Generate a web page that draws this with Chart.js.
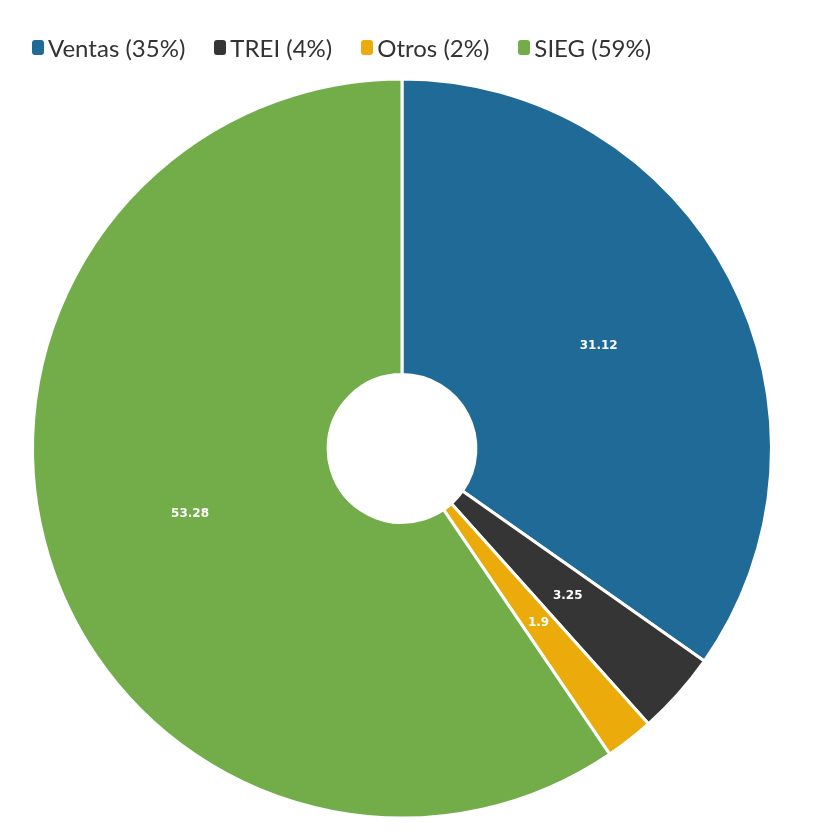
<!DOCTYPE html>
<html>
<head>
<meta charset="utf-8">
<script src="https://cdn.jsdelivr.net/npm/chart.js@4"></script>
<style>
  html, body { margin: 0; padding: 0; background: #fff; }
  #wrap { position: relative; width: 820px; height: 838px; }
  #legend { position: absolute; left: 32px; top: 33px; display: flex; font-family: Lato, "Noto Sans", sans-serif; font-size: 24px; color: #333; line-height: 30px; }
  .item { display: flex; align-items: center; margin-right: 29px; white-space: nowrap; }
  .box { width: 12px; height: 15px; border-radius: 3px; margin-right: 4px; margin-top: -2px; }
</style>
</head>
<body>
<div id="wrap">
  <canvas id="c" width="820" height="838"></canvas>
  <div id="legend"></div>
</div>
<script>
const categories = ["Ventas", "TREI", "Otros", "SIEG"];
const values = [31.12, 3.25, 1.9, 53.28];
const percentLabels = ["35%", "4%", "2%", "59%"];
const valueLabels = ["31.12", "3.25", "1.9", "53.28"];
const colors = ["#1f6a96", "#353535", "#eaab0b", "#72ad4a"];

const legend = document.getElementById('legend');
categories.forEach((c, i) => {
  const it = document.createElement('div');
  it.className = 'item';
  const b = document.createElement('div');
  b.className = 'box';
  b.style.background = colors[i];
  const t = document.createElement('span');
  t.textContent = c + ' (' + percentLabels[i] + ')';
  it.appendChild(b); it.appendChild(t);
  legend.appendChild(it);
});

const labelPlugin = {
  id: 'valueLabels',
  afterDatasetsDraw(chart) {
    const ctx = chart.ctx;
    const meta = chart.getDatasetMeta(0);
    ctx.save();
    ctx.font = 'bold 12px "DejaVu Sans", sans-serif';
    ctx.fillStyle = '#ffffff';
    ctx.textAlign = 'center';
    ctx.textBaseline = 'middle';
    meta.data.forEach((arc, i) => {
      const p = arc.tooltipPosition();
      ctx.fillText(valueLabels[i], p.x, p.y);
    });
    ctx.restore();
  }
};

new Chart(document.getElementById('c'), {
  type: 'doughnut',
  data: {
    labels: categories,
    datasets: [{
      data: values,
      backgroundColor: colors,
      borderColor: '#ffffff',
      borderWidth: 3
    }]
  },
  options: {
    responsive: false,
    animation: false,
    cutout: '20%',
    layout: { padding: { top: 77, bottom: 18, left: 31, right: 47 } },
    plugins: {
      legend: { display: false },
      tooltip: { enabled: false }
    }
  },
  plugins: [labelPlugin]
});
</script>
</body>
</html>
